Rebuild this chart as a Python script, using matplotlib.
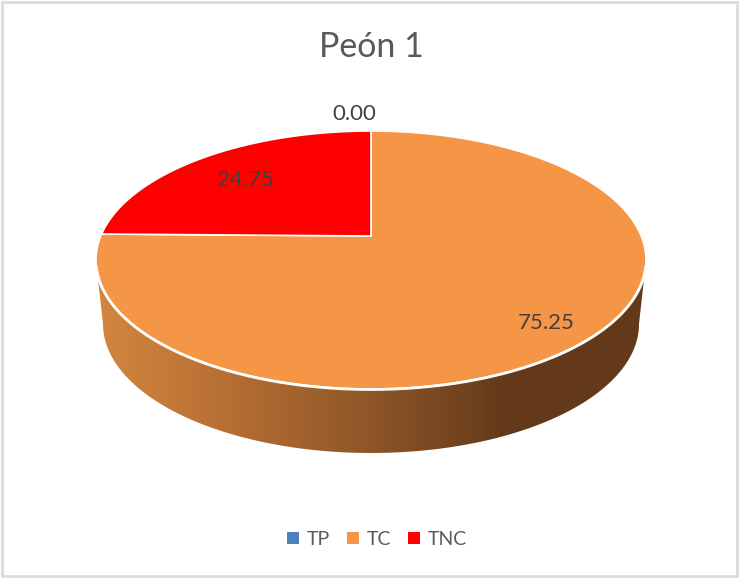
import numpy as np
import matplotlib
matplotlib.use('Agg')
import matplotlib.pyplot as plt
from matplotlib.colors import LinearSegmentedColormap
from matplotlib.patches import Patch, Polygon, Rectangle

plt.rcParams['font.family'] = ['Lato', 'DejaVu Sans']

categories = ['TP', 'TC', 'TNC']
values = [0.00, 75.25, 24.75]
colors = ['#4f81bd', '#f49646', '#ff0000']
side_stops = ['#d2863f', '#b56d33', '#8e5629', '#63391a', '#63391a']

cx, cy, rx, ry = 371, 260, 275, 129   # top face, in pixels
k = 24 / ry                           # perspective shift of the pie centre
depth = 64
bottom_rx = 268


def top_face(angle, r=1.0):
    # angle in degrees clockwise from 12 o'clock, then the perspective map
    a = np.radians(angle)
    u, v = r * np.sin(a), r * np.cos(a)
    d = 1 + k * v
    return cx + rx * u * np.sqrt(1 - k**2) / d, cy - ry * (v + k) / d


fig = plt.figure(figsize=(7.39, 5.78), dpi=100)
ax = fig.add_axes([0, 0, 1, 1])
ax.axis('off')

ax.add_patch(Rectangle((2, 1.5), 735, 574.5, fc='white', ec='#dcdcdc', lw=2))

# side wall
t = np.radians(np.linspace(-5, 185, 200))
upper = np.c_[cx + rx * np.cos(t), cy + ry * np.sin(t)]
upper = upper[upper[:, 1] >= 272]
t2 = np.radians(np.linspace(180, 0, 200))
lower = np.c_[cx + bottom_rx * np.cos(t2), cy + depth + ry * np.sin(t2)]
side = Polygon(np.r_[upper, lower], closed=True, fc='none', ec='none')
ax.add_patch(side)
cmap = LinearSegmentedColormap.from_list('side', side_stops)
grad = ax.imshow(np.linspace(0, 1, 256).reshape(1, -1), cmap=cmap, aspect='auto',
                 extent=(96, 646, 460, 270), zorder=1)
grad.set_clip_path(side)
ax.set_xlim(0, 739)
ax.set_ylim(578, 0)

# top face
start = 0.0
total = sum(values)
for val, col in zip(values, colors):
    sweep = 360 * val / total
    if val > 0:
        ang = np.linspace(start, start + sweep, 300)
        x, y = top_face(ang)
        pts = np.r_[[top_face(0, 0)], np.c_[x, y]]
        ax.add_patch(Polygon(pts, closed=True, fc=col, ec='white', lw=1.2, zorder=2))
    start += sweep

# brighter rim along the front of the top face
t3 = np.radians(np.linspace(3, 177, 200))
ax.plot(cx + rx * np.cos(t3), cy + ry * np.sin(t3) + 0.5, color='white', lw=2, zorder=3)

ax.text(371.5, 47, 'Peón 1', ha='center', va='center', fontsize=24.5, color='#595959')
ax.text(354.5, 114.5, f'{values[0]:.2f}', ha='center', va='center', fontsize=16, color='#404040')
ax.text(546.5, 323, f'{values[1]:.2f}', ha='center', va='center', fontsize=16, color='#404040')
ax.text(245, 180, f'{values[2]:.2f}', ha='center', va='center', fontsize=16, color='#404040')

handles = [Patch(fc=c, ec='none') for c in colors]
ax.legend(handles, categories, loc='center', bbox_to_anchor=(377 / 739, 1 - 539.5 / 578),
          ncol=3, frameon=False, fontsize=14, labelcolor='#595959', handlelength=0.6,
          handleheight=0.6, handletextpad=0.4, columnspacing=0.89)

fig.savefig('out.png', dpi=100)
